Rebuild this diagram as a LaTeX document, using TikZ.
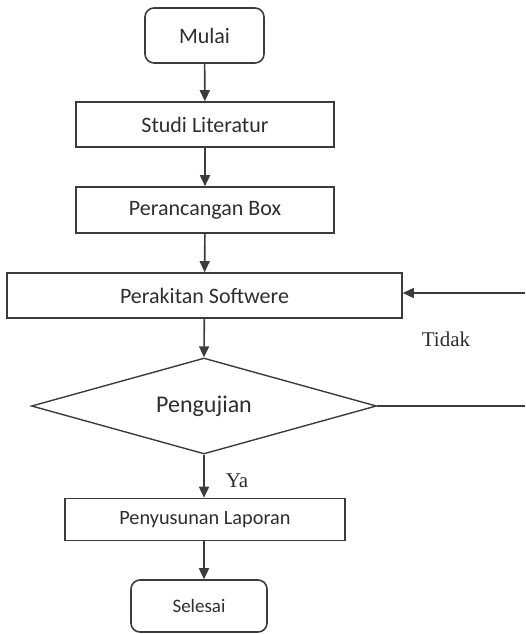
\documentclass[tikz,border=0pt]{standalone}
\usepackage{fontspec}
\setmainfont{Liberation Serif}
\newfontfamily\boxfont{Carlito}
\usetikzlibrary{shapes.geometric,arrows.meta}
\definecolor{ln}{HTML}{3C3C3C}
\definecolor{tx}{HTML}{2E2E2E}
\tikzset{
  procbox/.style={draw=ln, line width=1.6pt, rectangle, inner sep=0pt, text=tx, font=\boxfont\fontsize{22}{24}\selectfont},
  termbox/.style={procbox, rounded corners=9pt},
  arr/.style={draw=ln, line width=1.6pt, -{Triangle[length=11pt,width=10pt]}},
  plain/.style={draw=ln, line width=1.6pt},
  lbl/.style={text=tx, inner sep=0pt, font=\fontsize{21}{23}\selectfont}
}
\begin{document}
\begin{tikzpicture}[x=1pt,y=-1pt]
\useasboundingbox (0,0) rectangle (525,634);
\node[termbox, minimum width=119pt, minimum height=55pt] (mulai) at (204.5,35.5) {Mulai};
\node[procbox, minimum width=258pt, minimum height=45pt] (studi) at (205,124.5) {Studi Literatur};
\node[procbox, minimum width=258pt, minimum height=46pt] (rancang) at (205,210) {Perancangan Box};
\node[procbox, minimum width=395pt, minimum height=45pt] (rakit) at (204.5,295.5) {Perakitan Softwere};
\node[draw=ln, line width=1.4pt, diamond, inner sep=0pt, minimum width=345pt, minimum height=96pt] (uji) at (204,406) {};
\node[text=tx, inner sep=0pt, font=\boxfont\fontsize{24}{26}\selectfont] (ujitext) at (uji.center) {Pengujian};
\node[procbox, minimum width=280pt, minimum height=42pt, font=\boxfont\fontsize{20.3}{22}\selectfont] (susun) at (205,519.5) {Penyusunan Laporan};
\node[termbox, minimum width=136pt, minimum height=52pt, font=\boxfont\fontsize{19}{21}\selectfont] (selesai) at (199,606) {Selesai};
\coordinate (fbin) at (525,293);
\coordinate (fbout) at (525,406);
\node[lbl] (tidak) at (446,339) {Tidak};
\node[lbl] (ya) at (237,481) {Ya};
\draw[arr] (mulai) -- (studi);
\draw[arr] (studi) -- (rancang);
\draw[arr] (rancang) -- (rakit);
\draw[arr] (rakit) -- (uji.north);
\draw[arr] (uji.south) -- (susun.north -| uji.south);
\draw[arr] (susun.south -| uji.south) -- (selesai.north -| uji.south);
\draw[arr] (fbin) -- (fbin -| rakit.east);
\draw[plain] (uji.east) -- (fbout);
\end{tikzpicture}
\end{document}
